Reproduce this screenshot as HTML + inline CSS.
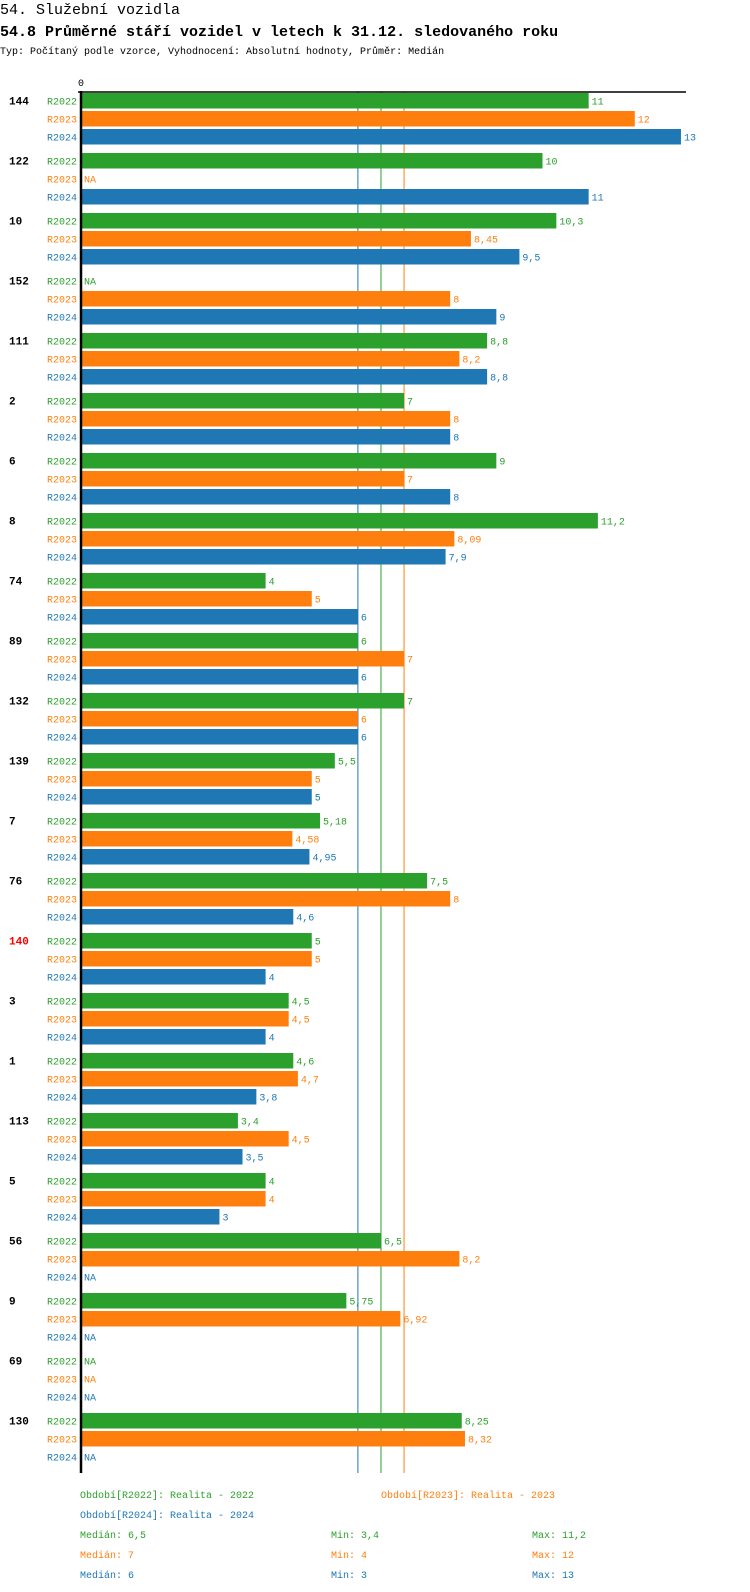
<!DOCTYPE html>
<html><head><meta charset="utf-8"><style>
body{margin:0;background:#fff;}
svg{display:block;font-family:"Liberation Mono","DejaVu Sans Mono",monospace;}
</style></head><body>
<svg width="750" height="1592" viewBox="0 0 750 1592" id="chart">
<text x="0" y="14" font-size="15" fill="#000">54. Služební vozidla</text>
<text x="0" y="36" font-size="15" font-weight="bold" fill="#000">54.8 Průměrné stáří vozidel v letech k 31.12. sledovaného roku</text>
<text x="0" y="54" font-size="10" fill="#000">Typ: Počítaný podle vzorce, Vyhodnocení: Absolutní hodnoty, Průměr: Medián</text>
<g id="plot"></g>
</svg>
<script>
const groups=["144","122","10","152","111","2","6","8","74","89","132","139","7","76","140","3","1","113","5","56","9","69","130"];
const seriesNames=["R2022","R2023","R2024"];
const r2022=[11,10,10.3,null,8.8,7,9,11.2,4,6,7,5.5,5.18,7.5,5,4.5,4.6,3.4,4,6.5,5.75,null,8.25];
const r2023=[12,null,8.45,8,8.2,8,7,8.09,5,7,6,5,4.58,8,5,4.5,4.7,4.5,4,8.2,6.92,null,8.32];
const r2024=[13,11,9.5,9,8.8,8,8,7.9,6,6,6,5,4.95,4.6,4,4,3.8,3.5,3,null,null,null,null];
const medians=[6.5,7,6];
const mins=[3.4,4,3];
const maxs=[11.2,12,13];
const highlighted=["140"];
const colors=["#2ca02c","#ff7f0e","#1f77b4"];
const series=[r2022,r2023,r2024];
const NS="http://www.w3.org/2000/svg";
const plot=document.getElementById('plot');
const x0=81,unit=46.15;
function xs(v){return x0+v*unit;}
function rowTop(g,r){return 93+g*60+r*18;}
function fmt(v){return String(v).replace('.',',');}
function mk(tag,attrs,parent){const e=document.createElementNS(NS,tag);for(const k in attrs)e.setAttribute(k,attrs[k]);(parent||plot).appendChild(e);return e;}
const yEnd=1473;
// median lines
medians.forEach((m,i)=>{
 const l=mk('line',{x1:xs(m),x2:xs(m),y1:92,y2:yEnd,stroke:colors[i],'stroke-width':1});
 
 
});
groups.forEach((g,gi)=>{
 const gl=mk('text',{x:9,y:rowTop(gi,0)+11.5,'font-size':11,'font-weight':'bold',fill:highlighted.includes(g)?'#ff0000':'#000'});
 gl.textContent=g;
 
 
 series.forEach((s,si)=>{
  const top=rowTop(gi,si);
  const sl=mk('text',{x:77,y:top+11.5,'font-size':10,fill:colors[si],'text-anchor':'end'});
  sl.textContent=seriesNames[si];
  
  
  const v=s[gi];
  if(v===null){
   const t=mk('text',{x:84,y:top+11.5,'font-size':10,fill:colors[si]});
   t.textContent='NA';
   
   
  }else{
   const b=mk('rect',{x:x0,y:top,width:xs(v)-x0,height:15.5,fill:colors[si]});
   
   
   const t=mk('text',{x:xs(v)+3,y:top+11.5,'font-size':10,fill:colors[si]});
   t.textContent=fmt(v);
   
   
  }
 });
});
// axes
const ax=mk('line',{x1:81,x2:81,y1:91,y2:yEnd,stroke:'#000','stroke-width':2.5});


const tx=mk('line',{x1:78,x2:686,y1:92,y2:92,stroke:'#000','stroke-width':1.5});


const z=mk('text',{x:x0-3,y:86,'font-size':10,fill:'#000'});
z.textContent='0';


// legend
const legPos=[[80,1498],[381,1498],[80,1518]];
const years=["2022","2023","2024"];
legPos.forEach((p,i)=>{
 const t=mk('text',{x:p[0],y:p[1],'font-size':10,fill:colors[i]});
 t.textContent='Období['+seriesNames[i]+']: Realita - '+years[i];
 
 
});
[0,1,2].forEach(i=>{
 const y=1538+i*20;
 const a=mk('text',{x:80,y:y,'font-size':10,fill:colors[i]});a.textContent='Medián: '+fmt(medians[i]);
 
 
 const b=mk('text',{x:331,y:y,'font-size':10,fill:colors[i]});b.textContent='Min: '+fmt(mins[i]);
 
 
 const c=mk('text',{x:532,y:y,'font-size':10,fill:colors[i]});c.textContent='Max: '+fmt(maxs[i]);
 
 
});
</script>
</body></html>
